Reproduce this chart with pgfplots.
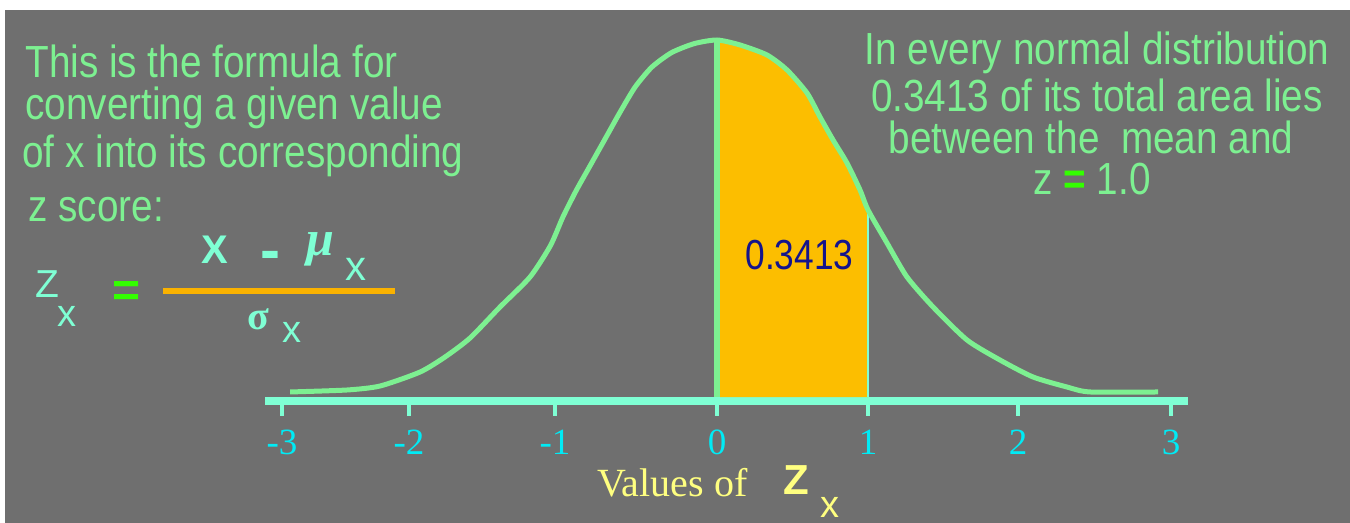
\documentclass[border=0pt]{standalone}
\usepackage{fontspec}
\setmainfont{Liberation Sans}
\newfontfamily\serif{Liberation Serif}
\newfontfamily\narrow[FakeStretch=0.84]{Liberation Sans}
\newfontfamily\tall[FakeStretch=0.86]{Liberation Sans}
\usepackage{pgfplots}
\pgfplotsset{compat=1.18}
\definecolor{bg}{RGB}{111,111,111}
\definecolor{curvegreen}{RGB}{125,240,145}
\definecolor{txtgreen}{RGB}{125,240,145}
\definecolor{axisaqua}{RGB}{127,255,212}
\definecolor{tickcyan}{RGB}{0,235,245}
\definecolor{fillorange}{RGB}{252,190,0}
\definecolor{fracorange}{RGB}{250,178,0}
\definecolor{eqgreen}{RGB}{51,255,0}
\definecolor{yell}{RGB}{255,255,128}
\definecolor{navy}{RGB}{20,20,140}
\begin{document}
\begin{tikzpicture}[x=0.5pt,y=-0.5pt]
\useasboundingbox (0,0) rectangle (1350,523);
\fill[white] (0,0) rectangle (1350,523);
\fill[bg] (5,10) rectangle (1350,523);
\begin{axis}[
  at={(358.5pt,-200.5pt)}, anchor=origin,
  x=75.75pt, y=451.25pt,
  xmin=-2.983, xmax=3.109, ymin=0, ymax=0.42,
  axis x line*=bottom, axis y line=none,
  axis line style={line width=4pt, color=axisaqua},
  xtick={-2.871,-2.033,-1.069,0,0.997,1.987,2.997},
  xticklabels={-3,-2,-1,0,1,2,3},
  ytick=\empty,
  tick align=outside, major tick length=7.5pt,
  tick style={line width=2pt, color=axisaqua},
  xticklabel style={font=\serif\fontsize{18.5}{20}\selectfont, text=tickcyan, anchor=base, inner sep=0pt, yshift=-19.5pt},
  clip=false,
]
% shaded area between mean and z = 1
\addplot[fill=fillorange, draw=none] coordinates {
 (0.02,0.0044) (0.02,0.4) (0.152,0.3945) (0.330,0.3834) (0.462,0.3668) (0.594,0.3413)
 (0.680,0.3147) (0.766,0.2892) (0.858,0.2637) (0.944,0.2338) (0.997,0.2116) (0.997,0.0044)};
\addplot[axisaqua, line width=1pt] coordinates {(0.997,0.0044) (0.997,0.2116)};
\addplot[curvegreen, line width=3pt] coordinates {(0,0.0044) (0,0.4)};
% normal curve
\addplot[curvegreen, line width=2.5pt, smooth, tension=0.4] coordinates {
 (-2.818,0.0100) (-2.442,0.0122) (-2.224,0.0166) (-1.960,0.0321) (-1.795,0.0488)
 (-1.630,0.0698) (-1.432,0.1042) (-1.234,0.1374) (-1.100,0.1720) (-1.017,0.2039)
 (-0.930,0.2330) (-0.840,0.2600) (-0.740,0.2900) (-0.640,0.3200) (-0.540,0.3480)
 (-0.430,0.3700) (-0.300,0.3860) (-0.150,0.3960)
 (0,0.4000) (0.152,0.3945) (0.330,0.3834) (0.462,0.3668) (0.594,0.3413)
 (0.680,0.3147) (0.766,0.2892) (0.858,0.2637) (0.944,0.2338) (0.997,0.2116)
 (1.122,0.1751) (1.254,0.1374) (1.426,0.1042) (1.650,0.0676) (1.868,0.0454)
 (2.086,0.0266) (2.310,0.0155) (2.462,0.0100) (2.911,0.0100)};
\end{axis}
% explanatory text
\begin{scope}[every node/.style={inner sep=0pt, text=txtgreen, font=\tall\fontsize{22.5}{26}\selectfont}]
\node[anchor=base west] at (25,78) {This is the formula for};
\node[anchor=base west] at (25,120) {converting a given value};
\node[anchor=base west] at (22,168) {of x into its corresponding};
\node[anchor=base west] at (28,222) {z score:};
\node[anchor=base] at (1097,65) {In every normal distribution};
\node[anchor=base] at (1097,112) {0.3413 of its total area lies};
\node[anchor=base] at (1091,154) {between the\ \ mean and};
\node[anchor=base] at (1092,195) {z {\color{eqgreen}\bfseries =} 1.0};
\end{scope}
% formula
\begin{scope}[every node/.style={inner sep=0pt, text=axisaqua}]
\node[anchor=base west, font=\fontsize{19.5}{22}\selectfont] at (35,298) {Z};
\node[anchor=base west, font=\fontsize{19}{22}\selectfont] at (57,327) {x};
\node[anchor=base, text=eqgreen, font=\bfseries\fontsize{24}{26}\selectfont] at (127,307) {=};
\node[anchor=base west, font=\bfseries\fontsize{20}{22}\selectfont] at (201,264) {X};
\node[anchor=base, font=\bfseries\fontsize{30}{32}\selectfont] at (270,271) {-};
\node[anchor=base west, font=\serif\bfseries\itshape\fontsize{25}{26}\selectfont] at (306,256) {μ};
\node[anchor=base west, font=\fontsize{21}{22}\selectfont] at (345,281) {x};
\node[anchor=base west, font=\serif\bfseries\fontsize{20}{22}\selectfont] at (247,330) {σ};
\node[anchor=base west, font=\fontsize{19}{22}\selectfont] at (282,343) {x};
\end{scope}
\draw[fracorange, line width=3pt] (163,291) -- (395,291);
% area value
\node[anchor=base west, inner sep=0pt, text=navy, font=\narrow\fontsize{21}{22}\selectfont] at (745,270) {0.3413};
% axis title
\node[anchor=base west, inner sep=0pt, text=yell, font=\serif\fontsize{20}{22}\selectfont] at (597,497) {Values of};
\node[anchor=base west, inner sep=0pt, text=yell, font=\bfseries\fontsize{21}{22}\selectfont] at (783,495) {Z};
\node[anchor=base west, inner sep=0pt, text=yell, font=\fontsize{19}{22}\selectfont] at (820,518) {x};
\end{tikzpicture}
\end{document}
